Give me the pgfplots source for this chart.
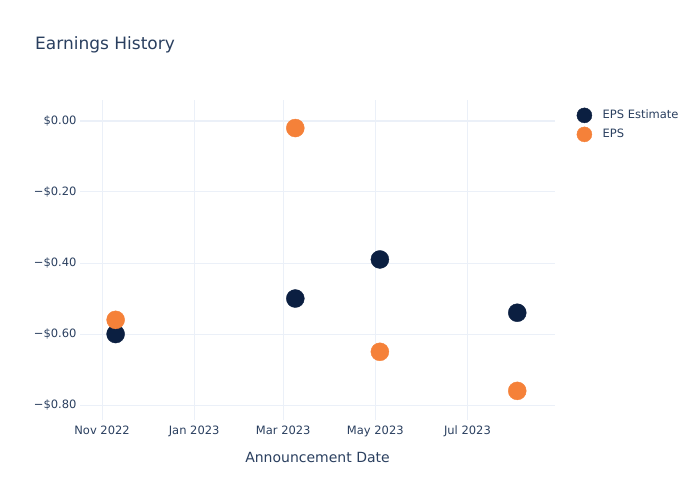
\documentclass[border=0pt]{standalone}
\usepackage{pgfplots}
\pgfplotsset{compat=1.18}
\usepackage{fontspec}
\setmainfont{DejaVu Sans}
\definecolor{txt}{HTML}{2A3F5F}
\definecolor{grid}{HTML}{EBF0F8}
\definecolor{navy}{HTML}{0B1F41}
\definecolor{orng}{HTML}{F58139}
\begin{document}
\begin{tikzpicture}[x=1pt,y=1pt]
\path[use as bounding box] (0,0) rectangle (700,500);
\node[anchor=west,font=\fontsize{17}{20}\selectfont,text=txt,inner sep=0pt] at (35,455) {Earnings History};
\begin{axis}[
  at={(80pt,80pt)}, anchor=south west,
  scale only axis, width=475pt, height=320pt,
  xmin=-14.6, xmax=300, ymin=-0.842, ymax=0.059,
  axis line style={draw=none},
  tick style={draw=none},
  xtick={0,61,120,181,242},
  xticklabels={Nov 2022,Jan 2023,Mar 2023,May 2023,Jul 2023},
  ytick={-0.8,-0.6,-0.4,-0.2,0},
  yticklabels={−\$0.80,−\$0.60,−\$0.40,−\$0.20,\$0.00},
  grid=major,
  major grid style={draw=grid, line width=1pt},
  ticklabel style={font=\fontsize{11.5}{13}\selectfont, text=txt},
  xticklabel style={yshift=-2pt},
  /pgf/number format/assume math mode=true,
  xlabel={Announcement Date},
  xlabel style={font=\fontsize{14}{16}\selectfont, text=txt, yshift=-9pt},
  legend style={at={(1.0442,0.976)}, anchor=north west, draw=none, fill=none,
    font=\fontsize{11.5}{13}\selectfont, text=txt, row sep=4pt, inner sep=0pt},
  legend cell align=left,
  legend image code/.code={\path (0pt,0pt) (24pt,0pt);\draw[mark repeat=2,mark phase=2,#1,mark size=7.5pt] plot coordinates {(0pt,0pt)(8pt,0pt)(24pt,0pt)};},
  clip=false,
]
\draw[grid, line width=2pt] (axis cs:-14.6,0) -- (axis cs:300,0);
\addplot[only marks, mark=*, mark size=9pt, mark options={draw=navy, fill=navy}]
  coordinates {(9,-0.60) (128,-0.50) (184,-0.39) (275,-0.54)};
\addlegendentry{EPS Estimate}
\addplot[only marks, mark=*, mark size=9pt, mark options={draw=orng, fill=orng}]
  coordinates {(9,-0.56) (128,-0.02) (184,-0.65) (275,-0.76)};
\addlegendentry{EPS}
\end{axis}
\end{tikzpicture}
\end{document}
